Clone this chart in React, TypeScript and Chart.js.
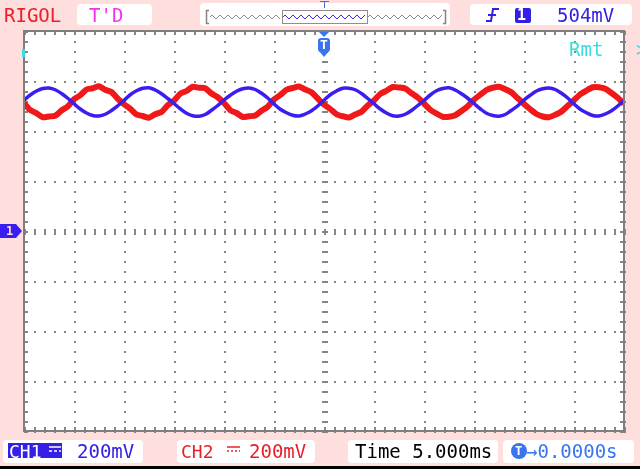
import React, { useEffect, useRef } from "react";
import { Chart, registerables } from "chart.js";

Chart.register(...registerables);

// ---- data (time in ms, voltage in mV) ----
const TIME_MS: number[] = Array.from({ length: 97 }, (_, i) => i * 0.625);

const CH1_MV: number[] = [
  523, 544, 560, 570, 572, 565, 550, 531, 509, 488, 472, 462, 460, 467, 482, 501,
  522, 545, 561, 571, 573, 564, 549, 530, 510, 489, 471, 461, 459, 466, 483, 502,
  524, 543, 559, 569, 572, 566, 551, 532, 508, 487, 473, 463, 460, 468, 481, 500,
  523, 545, 560, 571, 571, 565, 550, 530, 509, 488, 472, 461, 460, 467, 482, 502,
  522, 544, 561, 570, 573, 564, 549, 531, 510, 489, 471, 462, 459, 466, 483, 501,
  524, 543, 560, 569, 572, 566, 551, 532, 508, 487, 473, 462, 460, 468, 481, 500,
  523,
];

const CH2_MV: number[] = [
  511, 484, 471, 455, 458, 461, 482, 498, 527, 543, 566, 571, 579, 565, 556, 529,
  507, 489, 466, 460, 453, 467, 476, 503, 521, 549, 560, 577, 573, 571, 550, 535,
  512, 483, 472, 456, 459, 462, 481, 497, 526, 544, 565, 572, 578, 566, 555, 530,
  506, 488, 467, 459, 454, 466, 477, 502, 522, 548, 561, 576, 574, 570, 551, 534,
  510, 485, 470, 457, 457, 463, 480, 499, 525, 545, 564, 573, 577, 567, 554, 531,
  508, 487, 468, 458, 455, 465, 478, 501, 523, 547, 562, 575, 575, 569, 552, 533,
  509,
];

const X_DIVS_MS: number[] = [0, 5, 10, 15, 20, 25, 30, 35, 40, 45, 50, 55, 60];
const Y_DIVS_MV: number[] = [-800, -600, -400, -200, 0, 200, 400, 600, 800];
const X_CENTER_MS = 30;
const Y_CENTER_MV = 0;

// ---- colours ----
const BG = "#FFDEDE";
const WAVE_BLUE = "#3A1EF0";
const WAVE_RED = "#F01818";
const GRID = "#858585";
const BORDER = "#7E7E7E";
const TXT_BLUE = "#3320E4";
const TXT_RED = "#E8202A";
const MAGENTA = "#F530F0";
const CYAN = "#3CDCE0";
const LIGHTBLUE = "#3A74EE";

function roundRect(ctx: CanvasRenderingContext2D, x: number, y: number, w: number, h: number, r: number) {
  ctx.beginPath();
  ctx.moveTo(x + r, y);
  ctx.lineTo(x + w - r, y);
  ctx.quadraticCurveTo(x + w, y, x + w, y + r);
  ctx.lineTo(x + w, y + h - r);
  ctx.quadraticCurveTo(x + w, y + h, x + w - r, y + h);
  ctx.lineTo(x + r, y + h);
  ctx.quadraticCurveTo(x, y + h, x, y + h - r);
  ctx.lineTo(x, y + r);
  ctx.quadraticCurveTo(x, y, x + r, y);
  ctx.closePath();
}

function zigzag(ctx: CanvasRenderingContext2D, x0: number, x1: number, cy: number, color: string) {
  ctx.strokeStyle = color;
  ctx.lineWidth = 1;
  ctx.beginPath();
  let up = true;
  ctx.moveTo(x0, cy);
  for (let x = x0 + 2; x <= x1; x += 4) {
    ctx.lineTo(x, up ? cy - 2 : cy + 2);
    up = !up;
  }
  ctx.stroke();
}

const scopePlugin = {
  id: "scopeChrome",
  beforeDraw(chart: any) {
    const ctx: CanvasRenderingContext2D = chart.ctx;
    const { left, right, top, bottom } = chart.chartArea;
    const xs = chart.scales.x;
    const ys = chart.scales.y;
    ctx.save();
    ctx.fillStyle = BG;
    ctx.fillRect(0, 0, chart.width, chart.height);

    // header boxes
    ctx.fillStyle = "#FFFFFF";
    roundRect(ctx, 77, 4, 75, 21, 4); ctx.fill();
    roundRect(ctx, 200, 3, 250, 23, 4); ctx.fill();
    roundRect(ctx, 470, 4, 162, 21, 4); ctx.fill();
    // footer boxes
    roundRect(ctx, 3, 440, 140, 23, 4); ctx.fill();
    roundRect(ctx, 177, 440, 138, 23, 4); ctx.fill();
    roundRect(ctx, 348, 440, 150, 23, 4); ctx.fill();
    roundRect(ctx, 503, 440, 131, 23, 4); ctx.fill();

    // overview strip
    ctx.strokeStyle = "#8E8080";
    ctx.lineWidth = 1.5;
    ctx.beginPath();
    ctx.moveTo(209, 10.5); ctx.lineTo(206.5, 10.5); ctx.lineTo(206.5, 23.5); ctx.lineTo(209, 23.5);
    ctx.moveTo(443, 10.5); ctx.lineTo(445.5, 10.5); ctx.lineTo(445.5, 23.5); ctx.lineTo(443, 23.5);
    ctx.stroke();
    zigzag(ctx, 210, 282, 17, "#8A8A8A");
    zigzag(ctx, 368, 442, 17, "#8A8A8A");
    zigzag(ctx, 283, 366, 17, "#3A2AE0");
    ctx.strokeStyle = "#9A8A8A";
    ctx.lineWidth = 1;
    ctx.strokeRect(282.5, 10.5, 85, 13);
    ctx.strokeStyle = LIGHTBLUE;
    ctx.beginPath();
    ctx.moveTo(320, 1.5); ctx.lineTo(329, 1.5); ctx.moveTo(324.5, 1.5); ctx.lineTo(324.5, 8);
    ctx.stroke();

    // trigger edge symbol
    ctx.strokeStyle = TXT_BLUE;
    ctx.lineWidth = 2;
    ctx.beginPath();
    ctx.moveTo(486, 21); ctx.lineTo(491, 21); ctx.lineTo(493, 9); ctx.lineTo(499, 9);
    ctx.moveTo(488, 15); ctx.lineTo(496, 15);
    ctx.stroke();
    ctx.fillStyle = TXT_BLUE;
    roundRect(ctx, 515, 8, 16, 15, 2); ctx.fill();

    // CH1 block
    ctx.fillStyle = TXT_BLUE;
    ctx.fillRect(8, 443, 54, 15);
    ctx.strokeStyle = "#FFFFFF";
    ctx.lineWidth = 1.5;
    ctx.beginPath();
    ctx.moveTo(49, 447); ctx.lineTo(61, 447);
    ctx.stroke();
    ctx.setLineDash([3, 2]);
    ctx.beginPath();
    ctx.moveTo(49, 451); ctx.lineTo(61, 451);
    ctx.stroke();
    ctx.setLineDash([]);
    // CH2 coupling
    ctx.strokeStyle = TXT_RED;
    ctx.beginPath();
    ctx.moveTo(227, 447); ctx.lineTo(240, 447);
    ctx.stroke();
    ctx.setLineDash([2, 2]);
    ctx.beginPath();
    ctx.moveTo(227, 451); ctx.lineTo(240, 451);
    ctx.stroke();
    ctx.setLineDash([]);
    // T circle
    ctx.fillStyle = LIGHTBLUE;
    ctx.beginPath();
    ctx.arc(519, 451, 8, 0, Math.PI * 2);
    ctx.fill();

    // bottom black line
    ctx.fillStyle = "#000000";
    ctx.fillRect(0, 466, chart.width, 3);

    // plot area
    ctx.fillStyle = "#FFFFFF";
    ctx.fillRect(left, top, right - left, bottom - top);

    ctx.fillStyle = GRID;
    // dots along horizontal division lines
    for (const mv of Y_DIVS_MV) {
      const y = Math.round(ys.getPixelForValue(mv));
      for (let t = 0; t <= 60; t += 1) {
        const x = Math.round(xs.getPixelForValue(t));
        ctx.fillRect(x, y, 2, 2);
      }
    }
    // dots along vertical division lines
    for (const ms of X_DIVS_MS) {
      const x = Math.round(xs.getPixelForValue(ms));
      for (let mv = -800; mv <= 800; mv += 40) {
        const y = Math.round(ys.getPixelForValue(mv));
        ctx.fillRect(x, y, 2, 2);
      }
    }
    // centre cross tick marks
    const cx = Math.round(xs.getPixelForValue(X_CENTER_MS));
    const cy = Math.round(ys.getPixelForValue(Y_CENTER_MV));
    for (let t = 0; t <= 60; t += 1) {
      const x = Math.round(xs.getPixelForValue(t));
      ctx.fillRect(x, cy - 2, 2, 6);
    }
    for (let mv = -800; mv <= 800; mv += 40) {
      const y = Math.round(ys.getPixelForValue(mv));
      ctx.fillRect(cx - 2, y, 6, 2);
    }
    // border ticks
    for (let t = 0; t <= 60; t += 1) {
      const x = Math.round(xs.getPixelForValue(t));
      ctx.fillRect(x, top, 2, 4);
      ctx.fillRect(x, bottom - 4, 2, 4);
    }
    for (let mv = -800; mv <= 800; mv += 40) {
      const y = Math.round(ys.getPixelForValue(mv));
      ctx.fillRect(left, y, 4, 2);
      ctx.fillRect(right - 4, y, 4, 2);
    }
    ctx.restore();
  },
  afterDatasetsDraw(chart: any) {
    const ctx: CanvasRenderingContext2D = chart.ctx;
    const { left, right, top, bottom } = chart.chartArea;
    const xs = chart.scales.x;
    const ys = chart.scales.y;
    ctx.save();
    ctx.strokeStyle = BORDER;
    ctx.lineWidth = 2;
    ctx.strokeRect(left, top, right - left, bottom - top);

    // trigger position marker (top centre)
    const cx = xs.getPixelForValue(X_CENTER_MS);
    ctx.fillStyle = LIGHTBLUE;
    ctx.beginPath();
    ctx.moveTo(cx - 5, top + 1); ctx.lineTo(cx + 5, top + 1); ctx.lineTo(cx, top + 6); ctx.closePath();
    ctx.fill();
    roundRect(ctx, cx - 6, top + 7, 12, 14, 3); ctx.fill();
    ctx.beginPath();
    ctx.moveTo(cx - 5, top + 20); ctx.lineTo(cx + 5, top + 20); ctx.lineTo(cx, top + 26); ctx.closePath();
    ctx.fill();

    // channel 1 ground marker (left)
    const gy = ys.getPixelForValue(Y_CENTER_MV);
    ctx.fillStyle = "#3A1EF0";
    ctx.beginPath();
    ctx.moveTo(0, gy - 7); ctx.lineTo(16, gy - 7); ctx.lineTo(22, gy); ctx.lineTo(16, gy + 7); ctx.lineTo(0, gy + 7);
    ctx.closePath();
    ctx.fill();

    // cyan marker left
    ctx.fillStyle = CYAN;
    ctx.fillRect(left - 2, top + 18, 3, 8);
    ctx.restore();
  },
};

type LabelProps = { text: string; x: number; y: number; color: string; size?: number; bold?: boolean };

function Label({ text, x, y, color, size = 19, bold = false }: LabelProps) {
  const h = Math.round(size * 1.05);
  return (
    <div
      style={{
        position: "absolute",
        left: x,
        top: y - h / 2,
        height: h,
        lineHeight: `${h}px`,
        fontFamily: "'DejaVu Sans Mono', monospace",
        fontSize: size,
        fontWeight: bold ? "bold" : "normal",
        color,
        whiteSpace: "pre",
      }}
    >
      {text}
    </div>
  );
}

export default function App() {
  const canvasRef = useRef<HTMLCanvasElement | null>(null);

  useEffect(() => {
    if (!canvasRef.current) return;
    const chart = new Chart(canvasRef.current, {
      type: "line",
      data: {
        datasets: [
          {
            label: "CH1",
            data: TIME_MS.map((t, i) => ({ x: t, y: CH1_MV[i] })),
            borderColor: WAVE_BLUE,
            borderWidth: 3.5,
            pointRadius: 0,
            tension: 0.35,
            clip: 0,
          },
          {
            label: "CH2",
            data: TIME_MS.map((t, i) => ({ x: t, y: CH2_MV[i] })),
            borderColor: WAVE_RED,
            borderWidth: 6,
            pointRadius: 0,
            tension: 0.2,
            clip: 0,
          },
        ],
      },
      options: {
        animation: false,
        responsive: false,
        events: [],
        layout: { padding: { left: 24, top: 31, right: 16, bottom: 38 } },
        scales: {
          x: { type: "linear", min: 0, max: 60, display: false },
          y: { type: "linear", min: -800, max: 800, display: false },
        },
        plugins: { legend: { display: false }, tooltip: { enabled: false } },
      },
      plugins: [scopePlugin as any],
    });
    return () => chart.destroy();
  }, []);

  return (
    <div style={{ position: "fixed", left: 0, top: 0, width: 640, height: 469, overflow: "hidden", background: BG }}>
      <canvas ref={canvasRef} width={640} height={469} style={{ position: "absolute", left: 0, top: 0 }} />
      <Label text="RIGOL" x={4} y={15} color={TXT_RED} />
      <Label text="T'D" x={89} y={15} color={MAGENTA} />
      <Label text="1" x={517} y={15} color="#FFFFFF" size={15} bold />
      <Label text="504mV" x={557} y={15} color={TXT_BLUE} />
      <Label text="Rmt" x={569} y={49} color={CYAN} />
      <Label text=">" x={636} y={49} color={CYAN} />
      <Label text="T" x={320} y={45} color="#FFFFFF" size={13} bold />
      <Label text="1" x={6} y={231} color="#FFD8E8" size={12} bold />
      <Label text="CH1" x={9} y={451} color="#FFFFFF" size={18} />
      <Label text="200mV" x={77} y={451} color={TXT_BLUE} />
      <Label text="CH2" x={181} y={451} color={TXT_RED} size={18} />
      <Label text="200mV" x={249} y={451} color={TXT_RED} />
      <Label text="Time 5.000ms" x={355} y={451} color="#000000" />
      <Label text="T" x={515} y={451} color="#FFFFFF" size={12} bold />
      <Label text="→0.0000s" x={526} y={451} color={LIGHTBLUE} />
    </div>
  );
}
